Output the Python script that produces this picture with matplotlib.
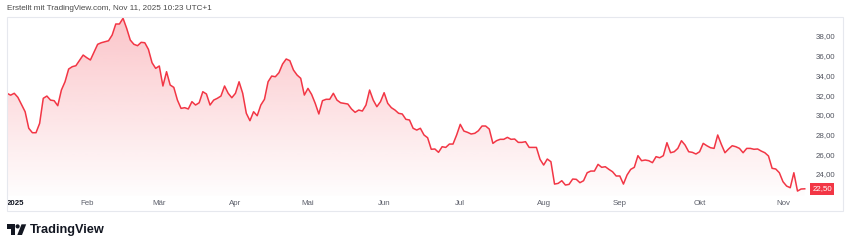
import matplotlib
matplotlib.use("Agg")
import matplotlib.pyplot as plt
import matplotlib.patches as mpatches
import numpy as np

# ---------------- data ----------------
# trading-day index since 2 Jan 2025 and closing price
day = [0, 1, 2, 3, 5, 6, 7, 8, 9, 10, 11, 12, 13, 14, 15, 16, 17, 18, 19, 21,
       22, 23, 25, 26, 28, 29, 30, 31, 32, 33, 34, 35, 36, 37, 38, 39, 40, 41, 42, 43,
       44, 45, 46, 47, 48, 49, 50, 51, 52, 53, 54, 55, 56, 57, 58, 59, 60, 61, 62, 63,
       64, 65, 66, 67, 68, 69, 70, 71, 72, 73, 74, 75, 76, 77, 78, 79, 80, 81, 82, 83,
       84, 85, 86, 87, 88, 89, 90, 91, 92, 94, 95, 96, 97, 98, 99, 100, 101, 102, 103, 104,
       105, 106, 107, 108, 109, 110, 111, 112, 113, 114, 115, 116, 117, 118, 119, 120, 121, 122, 123, 124,
       125, 126, 127, 128, 129, 130, 131, 132, 133, 134, 135, 136, 137, 138, 139, 140, 141, 142, 143, 144,
       146, 147, 148, 149, 150, 151, 152, 153, 154, 155, 156, 157, 158, 159, 160, 161, 162, 163, 164, 165,
       166, 167, 168, 169, 170, 171, 172, 173, 174, 175, 176, 177, 178, 179, 180, 181, 182, 183, 184, 185,
       186, 187, 188, 189, 190, 191, 192, 193, 194, 195, 196, 197, 198, 199, 200, 201, 202, 203, 204, 205,
       206, 207, 208, 209, 210, 211, 212, 213, 214, 215, 216, 217, 218, 219, 220]
price = [32.19, 32.00, 32.19, 31.78, 30.32, 28.64, 28.19, 28.19, 29.14, 31.68, 31.91, 31.50, 31.44, 30.93, 32.52, 33.36, 34.65, 34.89, 34.99, 36.07,
         35.80, 35.57, 37.16, 37.32, 37.52, 38.10, 39.22, 39.22, 39.80, 38.78, 37.59, 37.16, 37.02, 37.36, 37.32, 36.65, 35.29, 34.72, 34.96, 32.93,
         34.38, 33.03, 32.79, 31.50, 30.66, 30.73, 30.60, 31.34, 31.00, 31.23, 32.35, 32.12, 31.00, 31.50, 31.68, 31.91, 32.93, 32.19, 31.74, 32.19,
         33.36, 32.19, 30.16, 29.41, 30.32, 29.91, 31.00, 31.58, 33.36, 33.94, 33.87, 34.28, 35.16, 35.67, 35.50, 34.55, 34.04, 33.71, 32.01, 32.69,
         32.08, 31.17, 30.09, 31.44, 31.58, 31.58, 32.19, 31.50, 31.23, 31.10, 30.60, 30.26, 30.49, 30.39, 31.00, 32.52, 31.50, 30.83, 31.34, 32.25,
         31.17, 30.73, 30.49, 30.16, 30.09, 29.55, 29.48, 28.64, 28.46, 28.64, 27.96, 27.68, 26.51, 26.54, 26.20, 26.77, 26.70, 27.04, 27.04, 27.96,
         29.04, 28.36, 28.23, 28.06, 28.13, 28.39, 28.87, 28.87, 28.56, 27.11, 27.38, 27.52, 27.52, 27.72, 27.52, 27.55, 27.21, 27.21, 27.28, 26.70,
         26.70, 25.49, 24.91, 25.52, 25.25, 22.98, 23.05, 23.32, 22.88, 22.95, 23.49, 23.46, 23.12, 23.32, 24.13, 24.30, 24.30, 24.98, 24.68, 24.74,
         24.47, 24.23, 23.80, 23.80, 22.98, 23.90, 24.47, 24.68, 25.86, 25.35, 25.42, 25.35, 25.15, 25.76, 25.65, 25.86, 27.18, 26.16, 26.26, 26.60,
         27.38, 26.94, 26.26, 26.20, 26.03, 26.26, 27.11, 26.87, 26.67, 26.60, 27.96, 27.01, 26.16, 26.54, 26.87, 26.77, 26.60, 26.16, 26.60, 26.60,
         26.51, 26.54, 26.33, 26.16, 25.83, 24.58, 24.51, 24.13, 23.22, 22.78, 22.61, 24.13, 22.27, 22.48, 22.50]
month_days = [0, 22, 42, 63, 83, 104, 125, 148, 169, 191, 214]
month_labels = ["2025", "Feb", "Mär", "Apr", "Mai", "Jun", "Jul", "Aug", "Sep", "Okt", "Nov"]
price_ticks = [24, 26, 28, 30, 32, 34, 36, 38]
last_price = 22.50
header = "Erstellt mit TradingView.com, Nov 11, 2025 10:23 UTC+1"

# ---------------- styling ----------------
plt.rcParams['font.family'] = ['Liberation Sans', 'DejaVu Sans']
RED = '#f23645'
W, H = 850, 248
fig = plt.figure(figsize=(W / 100, H / 100), dpi=100)
fig.patch.set_facecolor('white')

def fx(px):
    return px / W

def fy(py):
    return 1 - py / H

# chart frame
frame = mpatches.Rectangle((fx(7), fy(211)), fx(843) - fx(7), fy(17) - fy(211),
                           transform=fig.transFigure, fill=False,
                           edgecolor='#e6e8ee', linewidth=0.8)
fig.patches.append(frame)

ax = fig.add_axes([fx(7), fy(196), fx(808) - fx(7), fy(17) - fy(196)])
ax.set_facecolor('none')
for s in ax.spines.values():
    s.set_visible(False)

x = np.array(day, dtype=float)
y = np.array(price, dtype=float)
ymin, ymax = 21.77, 39.93
xmax = 220.9

# gradient fill under the line
poly = ax.fill_between(x, y, ymin, facecolor='none', edgecolor='none')
n = 256
grad = np.zeros((n, 1, 4))
grad[:, 0, 0] = 242 / 255
grad[:, 0, 1] = 54 / 255
grad[:, 0, 2] = 69 / 255
grad[:, 0, 3] = np.linspace(0.29, 0.01, n)   # row 0 = top
img = ax.imshow(grad, aspect='auto', extent=[0, xmax, ymin, ymax],
                origin='upper', zorder=1, interpolation='bilinear')
path = poly.get_paths()[0]
img.set_clip_path(path, transform=ax.transData)
ax.set_ylim(ymin, ymax)
ax.set_xlim(0, xmax)

ax.plot(x, y, color=RED, linewidth=1.1, zorder=3, solid_joinstyle='round')

# axes ticks
ax.yaxis.tick_right()
ax.set_yticks(price_ticks)
ax.set_yticklabels([f"{v:.2f}".replace('.', ',') for v in price_ticks])
ax.tick_params(axis='y', length=0, pad=5.5, labelsize=5.7, labelcolor='#50535e')
ax.set_xticks(month_days)
ax.set_xticklabels(month_labels)
ax.tick_params(axis='x', length=0, pad=3, labelsize=5.7, labelcolor='#5d606b')
for i, lab in enumerate(ax.get_xticklabels()):
    if i == 0:
        lab.set_ha('left')
        lab.set_fontweight('bold')
        lab.set_color('#131722')

# last price label
ax.annotate("22,50", xy=(1.0, last_price), xycoords=('axes fraction', 'data'),
            xytext=(3.2, 0), textcoords='offset points', ha='left', va='center',
            fontsize=5.7, color='white',
            bbox=dict(boxstyle='square,pad=0.3', facecolor=RED, edgecolor='none'),
            zorder=5, annotation_clip=False)

# header
fig.text(fx(7), fy(9), header, fontsize=5.85, color='#4a4a4a', va='center', ha='left')

# TradingView logo (approximate shapes)
c = '#131722'
logo = [
    mpatches.Rectangle((fx(7.3), fy(228.5)), fx(14.8) - fx(7.3), fy(224.3) - fy(228.5)),
    mpatches.Rectangle((fx(10.8), fy(235)), fx(14.8) - fx(10.8), fy(224.3) - fy(235)),
    mpatches.Polygon([(fx(21.5), fy(224.3)), (fx(26.2), fy(224.3)),
                      (fx(22.0), fy(235)), (fx(17.3), fy(235))], closed=True),
    mpatches.Ellipse((fx(17.6), fy(226.4)), fx(4.2), fx(4.2) * W / H),
]
for p in logo:
    p.set_transform(fig.transFigure)
    p.set_facecolor(c)
    p.set_edgecolor('none')
    fig.patches.append(p)
fig.text(fx(29.5), fy(230), "TradingView", fontsize=9.2, fontweight='bold',
         color=c, va='center', ha='left')

fig.savefig("out.png", dpi=100, facecolor='white')
